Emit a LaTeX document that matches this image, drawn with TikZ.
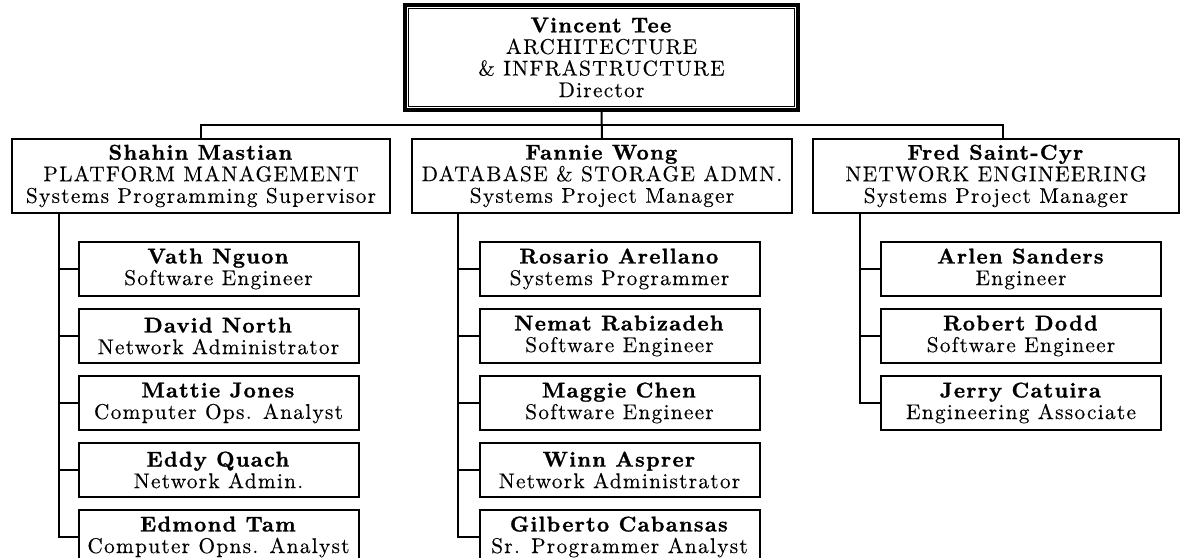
\documentclass[tikz,border=0pt]{standalone}
\usepackage{fontspec}
\setmainfont{lmroman10}[Extension=.otf, UprightFont=*-regular, BoldFont=*-bold,
  ItalicFont=*-italic, LetterSpace=6, UprightFeatures={FakeBold=0.3},
  BoldFeatures={FakeBold=1.2}]
\usepackage{tikz}
\usetikzlibrary{positioning}

\begin{document}
\begin{tikzpicture}[x=0.75pt, y=-0.75pt,
  every node/.style={font=\fontsize{16}{16.2}\selectfont},
  head/.style={rectangle, draw, line width=2.4pt, minimum width=294.75pt, minimum height=78.75pt,
               inner sep=0pt, align=center},
  unit/.style={rectangle, draw, line width=1.5pt, minimum width=#1, minimum height=55.5pt,
               inner sep=0pt, align=center},
  staff/.style={rectangle, draw, line width=1.5pt, minimum width=210pt, minimum height=40.5pt,
                inner sep=0pt, align=center},
  link/.style={line width=1.5pt}
]
\useasboundingbox (0,0) rectangle (1180,557);
\node[head] (vincent) at (601.5,57.5) {\textbf{Vincent Tee}\\ARCHITECTURE\\\& INFRASTRUCTURE\\Director};
\draw[line width=0.9pt] ([shift={(5,5)}]vincent.north west) rectangle ([shift={(-5,-5)}]vincent.south east);
\node[unit=283.5pt] (shahin) at (201,176) {\textbf{Shahin Mastian}\\PLATFORM MANAGEMENT\\Systems Programming Supervisor};
\node[unit=285pt]   (fannie) at (602,176) {\textbf{Fannie Wong}\\DATABASE \& STORAGE ADMN.\\Systems Project Manager};
\node[unit=274.5pt] (fred)   at (996,176) {\textbf{Fred Saint-Cyr}\\NETWORK ENGINEERING\\Systems Project Manager};
\coordinate (bus) at (602,125);
\draw[link] (vincent.south) -- (fannie.north);
\draw[link] (shahin.north) |- (bus) -| ([xshift=5pt]fred.north);

\node[staff] (vath)   at (218.5,269) {\textbf{Vath Nguon}\\Software Engineer};
\node[staff, below=8.25pt of vath]   (david)  {\textbf{David North}\\Network Administrator};
\node[staff, below=8.25pt of david]  (mattie) {\textbf{Mattie Jones}\\Computer Ops. Analyst};
\node[staff, below=8.25pt of mattie] (eddy)   {\textbf{Eddy Quach}\\Network Admin.};
\node[staff, below=8.25pt of eddy]   (edmond) {\textbf{Edmond Tam}\\Computer Opns. Analyst};

\node[staff] (rosario) at (619.5,269) {\textbf{Rosario Arellano}\\Systems Programmer};
\node[staff, below=8.25pt of rosario] (nemat)    {\textbf{Nemat Rabizadeh}\\Software Engineer};
\node[staff, below=8.25pt of nemat]   (maggie)   {\textbf{Maggie Chen}\\Software Engineer};
\node[staff, below=8.25pt of maggie]  (winn)     {\textbf{Winn Asprer}\\Network Administrator};
\node[staff, below=8.25pt of winn]    (gilberto) {\textbf{Gilberto Cabansas}\\Sr. Programmer Analyst};

\node[staff] (arlen) at (1021,269) {\textbf{Arlen Sanders}\\Engineer};
\node[staff, below=8.25pt of arlen]  (robert) {\textbf{Robert Dodd}\\Software Engineer};
\node[staff, below=8.25pt of robert] (jerry)  {\textbf{Jerry Catuira}\\Engineering Associate};

\foreach \c in {vath,david,mattie,eddy,edmond}
  \draw[link] ([xshift=36pt]shahin.south west) |- (\c.west);
\foreach \c in {rosario,nemat,maggie,winn,gilberto}
  \draw[link] ([xshift=35.25pt]fannie.south west) |- (\c.west);
\foreach \c in {arlen,robert,jerry}
  \draw[link] ([xshift=36pt]fred.south west) |- (\c.west);
\end{tikzpicture}
\end{document}
